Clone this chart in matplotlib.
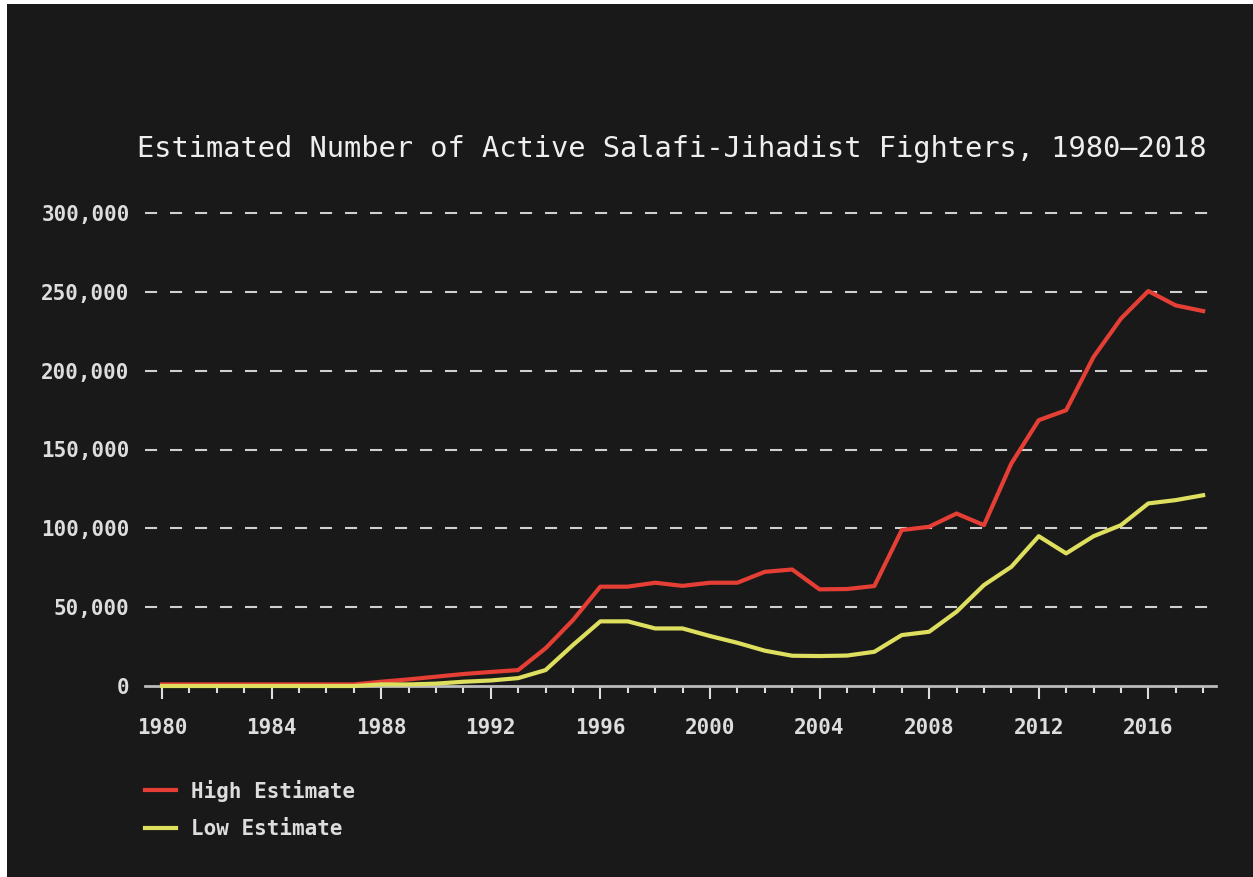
import matplotlib.pyplot as plt
from matplotlib.patches import Rectangle
from matplotlib.ticker import MultipleLocator, FuncFormatter

# Datos
years = list(range(1980, 2019))
high_estimate = [1000, 1000, 1000, 1000, 1000, 1000, 1000, 1000,
                 2700, 4200, 5900, 7600, 8900, 10100, 23900, 41800,
                 63000, 63000, 65500, 63500, 65500, 65500, 72400, 73900,
                 61300, 61500, 63400, 98900, 101000, 109400, 102000, 141100,
                 168600, 174900, 208700, 233000, 250500, 241400, 237800]
low_estimate = [0, 0, 0, 0, 0, 0, 0, 0,
                1000, 1000, 1500, 2700, 3500, 5000, 10100, 26000,
                41000, 41000, 36500, 36500, 31700, 27400, 22400, 19200,
                19000, 19300, 21700, 32300, 34400, 47100, 64000, 75600,
                95000, 84100, 95000, 102000, 115800, 117900, 121000]
y_ticks = [0, 50000, 100000, 150000, 200000, 250000, 300000]
x_ticks = [1980, 1984, 1988, 1992, 1996, 2000, 2004, 2008, 2012, 2016]

title = 'Estimated Number of Active Salafi-Jihadist Fighters, 1980\u20132018'

bg = '#191919'
red = '#e53f35'
yellow = '#dede5f'
mono = 'DejaVu Sans Mono'

fig = plt.figure(figsize=(12.53, 8.77), dpi=100, facecolor='white')
# fondo oscuro con un borde blanco fino arriba e izquierda
fig.add_artist(Rectangle((7 / 1253, 0), 1, (877 - 4) / 877, transform=fig.transFigure,
                         facecolor=bg, edgecolor='none', zorder=-10))

ax = fig.add_axes([145 / 1253, (877 - 686) / 877, (1216 - 145) / 1253, (686 - 213) / 877])
ax.set_facecolor(bg)
ax.patch.set_alpha(0)

ax.plot(years, high_estimate, color=red, lw=3, label='High Estimate', clip_on=False, zorder=3,
        solid_joinstyle='round')
ax.plot(years, low_estimate, color=yellow, lw=3, label='Low Estimate', clip_on=False, zorder=4,
        solid_joinstyle='round')

ax.set_xlim(1979.38, 2018.47)
ax.set_ylim(0, 300000)

# lineas de referencia discontinuas
for v in y_ticks[1:]:
    ax.axhline(v, color='#d0d0d0', lw=1.5, ls=(0, (5.8, 6.2)), zorder=1, clip_on=False)

for s in ['top', 'right', 'left']:
    ax.spines[s].set_visible(False)
ax.spines['bottom'].set_color('#bbbbbb')
ax.spines['bottom'].set_linewidth(2)
ax.spines['bottom'].set_zorder(2)

ax.set_yticks(y_ticks)
ax.yaxis.set_major_formatter(FuncFormatter(lambda v, p: f'{int(v):,}'))
ax.tick_params(axis='y', length=0, pad=11, labelcolor='#dddddd', labelsize=15)

ax.set_xticks(x_ticks)
ax.xaxis.set_minor_locator(MultipleLocator(1))
ax.tick_params(axis='x', which='major', length=9, width=1.5, color='#dddddd', pad=14,
               labelcolor='#dddddd', labelsize=15)
ax.tick_params(axis='x', which='minor', length=5, width=1.5, color='#dddddd')

for lab in ax.get_xticklabels() + ax.get_yticklabels():
    lab.set_fontfamily(mono)
    lab.set_fontweight('bold')

fig.text(672 / 1253, 1 - 149 / 877, title, ha='center', va='center', color='#eeeeee',
         fontsize=20.7, fontfamily=mono)

leg = fig.legend(loc='upper left', bbox_to_anchor=(126 / 1253, 1 - 761 / 877), frameon=False,
                 prop={'family': mono, 'size': 15, 'weight': 'bold'}, handlelength=1.5,
                 handletextpad=0.7, labelspacing=0.84)
for t in leg.get_texts():
    t.set_color('#dddddd')

fig.savefig('out.png', dpi=100, facecolor=fig.get_facecolor())
